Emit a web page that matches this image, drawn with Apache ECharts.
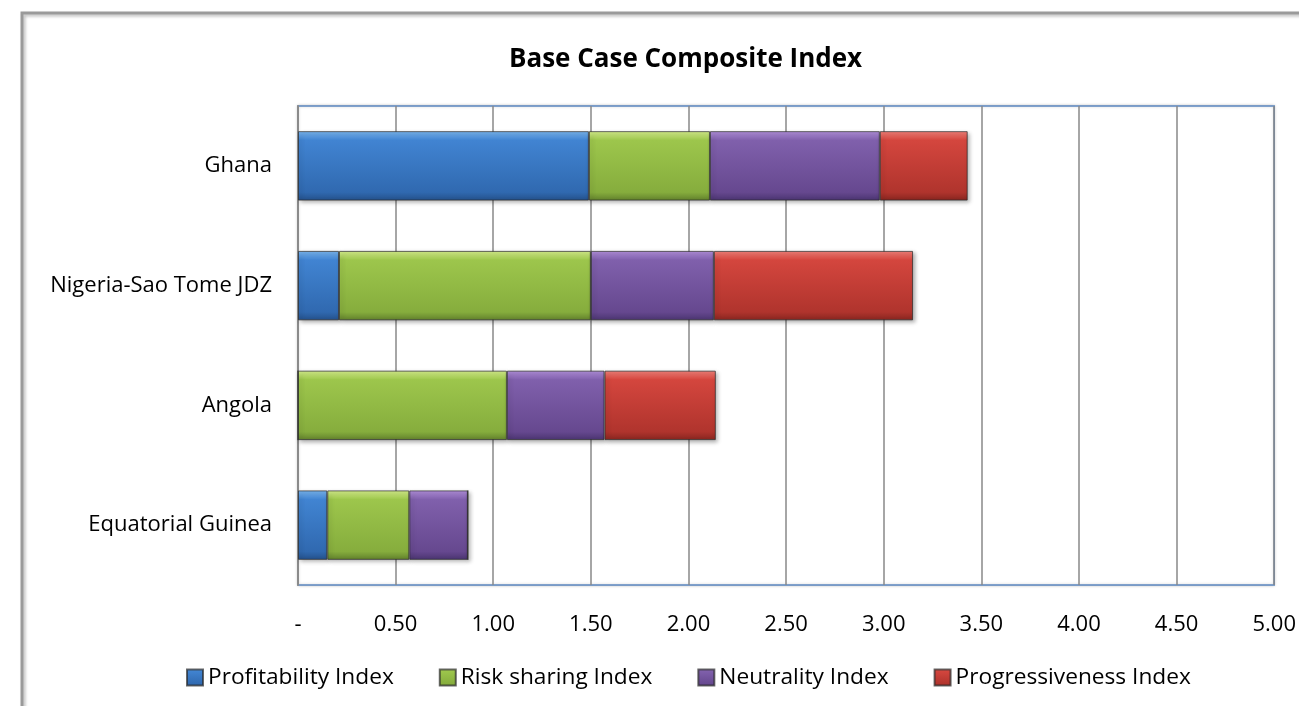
<!DOCTYPE html>
<html>
<head>
<meta charset="utf-8">
<script src="https://cdn.jsdelivr.net/npm/echarts@6/dist/echarts.min.js"></script>
<style>
html,body{margin:0;padding:0;background:#fff;}
#chart{width:1299px;height:706px;}
</style>
</head>
<body>
<div id="chart"></div>
<script>
const categories = ['Ghana', 'Nigeria-Sao Tome JDZ', 'Angola', 'Equatorial Guinea'];
const seriesNames = ['Profitability Index', 'Risk sharing Index', 'Neutrality Index', 'Progressiveness Index'];
const profitability = [1.49, 0.21, 0, 0.15];
const riskSharing = [0.62, 1.29, 1.07, 0.42];
const neutrality = [0.87, 0.63, 0.50, 0.30];
const progressiveness = [0.45, 1.02, 0.57, 0];
const xTicks = ['-', '0.50', '1.00', '1.50', '2.00', '2.50', '3.00', '3.50', '4.00', '4.50', '5.00'];

const palettes = [
  ['#7ab6f0', '#4184d2', '#3069b0', '#24508a'],
  ['#d6ef8c', '#9dc64c', '#86ad3d', '#61802c'],
  ['#b290dc', '#8060ac', '#66488f', '#4a3470'],
  ['#f3827a', '#d4463e', '#b0342d', '#87251f']
];
function grad(p) {
  return {
    type: 'linear', x: 0, y: 0, x2: 0, y2: 1,
    colorStops: [
      {offset: 0, color: p[0]},
      {offset: 0.13, color: p[1]},
      {offset: 0.88, color: p[2]},
      {offset: 1, color: p[3]}
    ]
  };
}
const dataSets = [profitability, riskSharing, neutrality, progressiveness];
const series = dataSets.map((d, i) => ({
  name: seriesNames[i],
  type: 'bar',
  stack: 'total',
  data: d,
  barCategoryGap: '42%',
  itemStyle: {
    color: grad(palettes[i]),
    borderColor: 'rgba(40,40,40,0.7)',
    borderWidth: 1,
    shadowColor: 'rgba(0,0,0,0.3)',
    shadowBlur: 4,
    shadowOffsetX: 2,
    shadowOffsetY: 2
  }
}));

const F = 'Open Sans';
const chart = echarts.init(document.getElementById('chart'));
chart.setOption({
  animation: false,
  backgroundColor: '#fff',
  graphic: [{
    type: 'rect',
    shape: {x: 22, y: 13, width: 1300, height: 720},
    style: {fill: 'none', stroke: '#9a9a9a', lineWidth: 3, shadowColor: 'rgba(0,0,0,0.25)', shadowBlur: 3, shadowOffsetX: 2, shadowOffsetY: 2},
    silent: true, z: -10
  }],
  title: {
    text: 'Base Case Composite Index',
    left: 504,
    top: 42,
    textStyle: {fontFamily: F, fontSize: 26, fontWeight: 'bold', color: '#000'}
  },
  legend: {
    bottom: 12,
    left: 181,
    itemWidth: 16,
    itemHeight: 16,
    itemGap: 45,
    icon: 'rect',
    textStyle: {fontFamily: F, fontSize: 22.7, color: '#000'},
    data: seriesNames
  },
  grid: {
    left: 298, right: 24, top: 106, bottom: 121,
    show: true,
    borderColor: '#5b87c0',
    borderWidth: 1.5,
    backgroundColor: '#fff',
    shadowColor: 'rgba(0,0,0,0.2)', shadowBlur: 3
  },
  xAxis: {
    type: 'value',
    min: 0, max: 5, interval: 0.5,
    axisLine: {show: false},
    axisTick: {show: false},
    splitLine: {show: true, lineStyle: {color: '#888', width: 1.5}},
    axisLabel: {
      fontFamily: F, fontSize: 22, color: '#000', margin: 29,
      formatter: function (v) { return xTicks[Math.round(v / 0.5)]; }
    }
  },
  yAxis: {
    type: 'category',
    inverse: true,
    data: categories,
    axisLine: {show: true, lineStyle: {color: '#8a8a8a', width: 2}},
    axisTick: {show: false},
    axisLabel: {fontFamily: F, fontSize: 22, color: '#000', margin: 26}
  },
  series: series
});
</script>
</body>
</html>
